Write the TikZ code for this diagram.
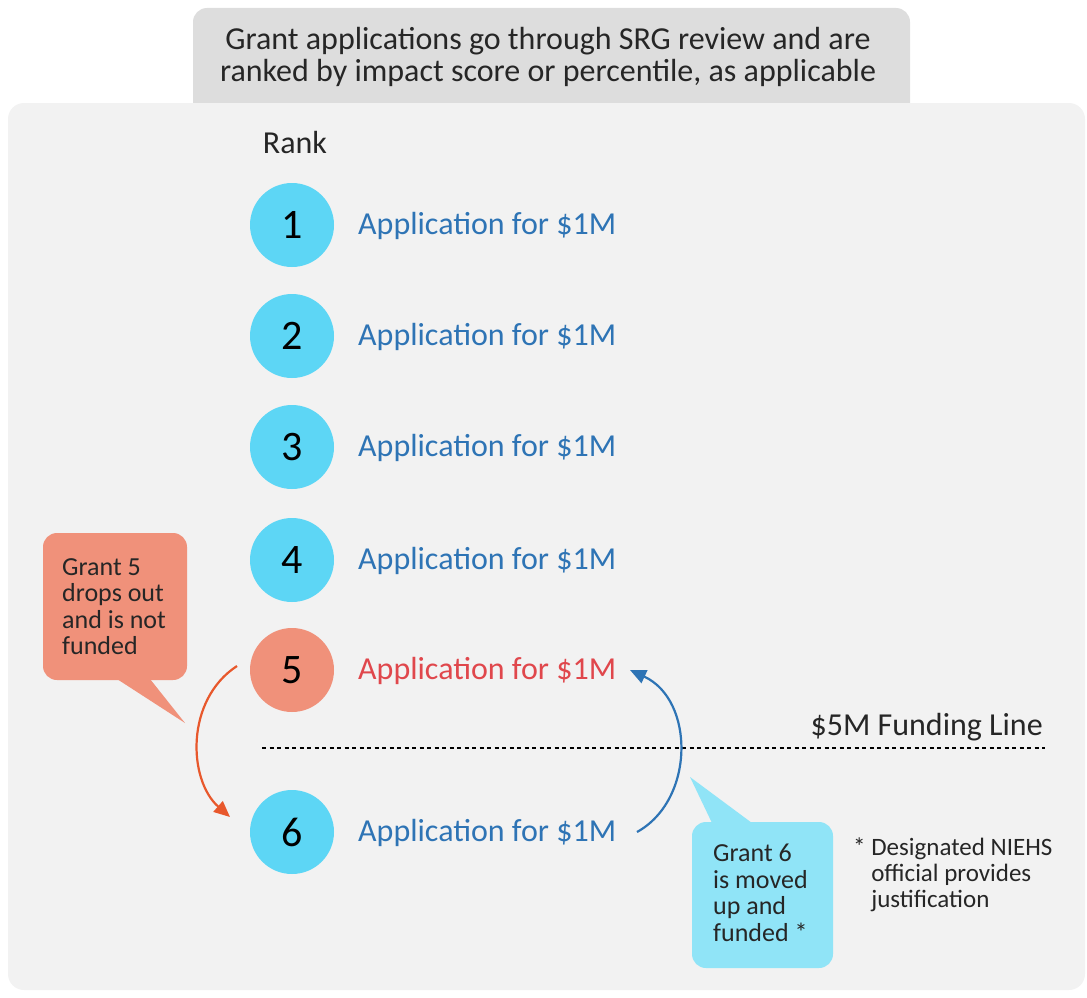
\documentclass[tikz,border=0pt]{standalone}
\usepackage{fontspec}
\setmainfont{Carlito}
\usetikzlibrary{arrows.meta}
\definecolor{panel}{HTML}{F2F2F2}
\definecolor{topbox}{HTML}{DDDDDD}
\definecolor{cyanc}{HTML}{5DD6F5}
\definecolor{salmon}{HTML}{F0917A}
\definecolor{appblue}{HTML}{2E74B5}
\definecolor{appred}{HTML}{E0474C}
\definecolor{arrred}{HTML}{E8582C}
\definecolor{lightcyan}{HTML}{90E4F7}
\definecolor{txt}{HTML}{262626}
\tikzset{
  rankc/.style={circle, fill=cyanc, minimum size=84pt, inner sep=0pt, font=\fontsize{42}{44}\selectfont, text=black},
  apptext/.style={anchor=west, inner sep=0pt, text=appblue, font=\fontsize{32}{36}\selectfont},
  calltext/.style={align=left, text=txt, font=\fontsize{26}{26.5}\selectfont},
}
\begin{document}
\begin{tikzpicture}[x=1pt,y=-1pt]
\useasboundingbox (0,0) rectangle (1087,998);
% top box
\fill[topbox, rounded corners=14pt] (193,8) rectangle (910,130);
% panel
\fill[panel, rounded corners=16pt] (8,103) rectangle (1085,990);
\node[font=\fontsize{32}{32}\selectfont, text=txt, align=center] (title) at (548,57)
  {Grant applications go through SRG review and are\\ranked by impact score or percentile, as applicable};
\node[font=\fontsize{32}{34}\selectfont, text=txt] (rank) at (295,143) {Rank};
% circles
\node[rankc] (c1) at (292,225) {1};
\node[rankc] (c2) at (292,336) {2};
\node[rankc] (c3) at (292,447) {3};
\node[rankc] (c4) at (292,560) {4};
\node[rankc, fill=salmon] (c5) at (292,670) {5};
\node[rankc] (c6) at (292,832) {6};
\node[apptext] (a1) at (358,226) {Application for \$1M};
\node[apptext] (a2) at (358,337) {Application for \$1M};
\node[apptext] (a3) at (358,448) {Application for \$1M};
\node[apptext] (a4) at (358,561) {Application for \$1M};
\node[apptext, text=appred] (a5) at (358,671) {Application for \$1M};
\node[apptext] (a6) at (358,833) {Application for \$1M};
% funding line
\coordinate (fl1) at (262,748);
\coordinate (fl2) at (1045,748);
\draw[black, line width=1.6pt, dash pattern=on 4pt off 3.5pt] (fl1) -- (fl2);
\node[anchor=south east, font=\fontsize{32}{34}\selectfont, text=txt, inner sep=2pt] (fltext) at (1045,743) {\$5M Funding Line};
% orange callout
\fill[salmon, rounded corners=14pt] (43,533) rectangle (187,680);
\fill[salmon] (117,679) -- (185,723) -- (150,679) -- cycle;
\node[calltext, anchor=north west, inner sep=0pt] (g5) at (62,558) {Grant 5\\drops out\\and is not\\funded};
% blue callout
\fill[lightcyan, rounded corners=14pt] (692,822) rectangle (833,968);
\fill[lightcyan] (712,823) -- (690,777) -- (752,823) -- cycle;
\node[calltext, anchor=north west, inner sep=0pt] (g6) at (713,844) {Grant 6\\is moved\\up and\\funded *};
% footnote
\node[calltext, font=\fontsize{25}{26}\selectfont, anchor=north west, inner sep=0pt] (fn) at (853,838) {* Designated NIEHS\\\phantom{* }official provides\\\phantom{* }justification};
% arrows
\coordinate (o1) at (237,666);
\coordinate (o2) at (230,817);
\draw[arrred, line width=2.2pt, -{Triangle[length=16pt,width=14pt]}] (o1) .. controls (185,700) and (188,780) .. (o2);
\coordinate (b1) at (637,832);
\coordinate (b2) at (630,670);
\draw[appblue, line width=2.2pt, -{Triangle[length=16pt,width=14pt]}] (b1) .. controls (695,800) and (695,700) .. (b2);
\end{tikzpicture}
\end{document}
